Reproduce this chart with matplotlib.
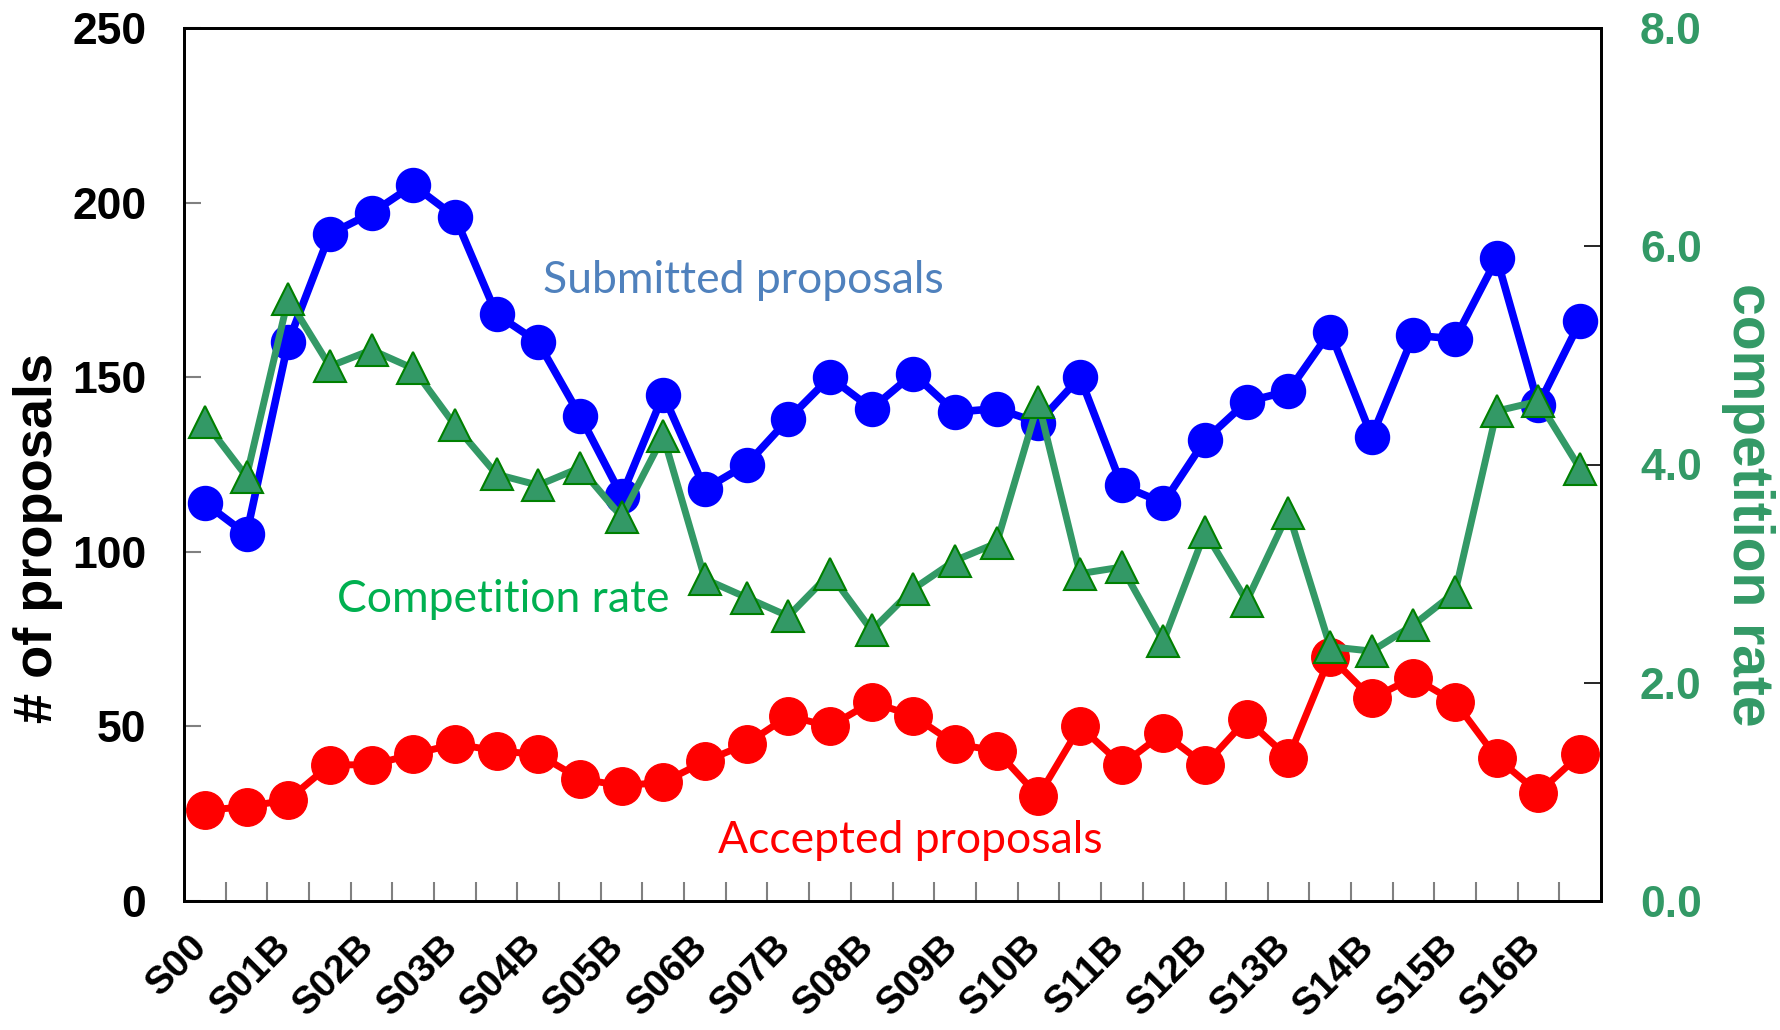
import numpy as np
import matplotlib
matplotlib.use("Agg")
import matplotlib.pyplot as plt
from matplotlib import font_manager, transforms

# ---------------- data ----------------
semesters = ["S00", "S01A", "S01B", "S02A", "S02B", "S03A", "S03B", "S04A", "S04B",
             "S05A", "S05B", "S06A", "S06B", "S07A", "S07B", "S08A", "S08B",
             "S09A", "S09B", "S10A", "S10B", "S11A", "S11B", "S12A", "S12B",
             "S13A", "S13B", "S14A", "S14B", "S15A", "S15B", "S16A", "S16B", "S17A"]
tick_labels = ["S00", "S01B", "S02B", "S03B", "S04B", "S05B", "S06B", "S07B", "S08B",
               "S09B", "S10B", "S11B", "S12B", "S13B", "S14B", "S15B", "S16B"]
submitted = [114, 105, 160, 191, 197, 205, 196, 168, 160, 139, 116, 145, 118, 125, 138,
             150, 141, 151, 140, 141, 137, 150, 119, 114, 132, 143, 146, 163, 133, 162,
             161, 184, 142, 166]
accepted = [26, 27, 29, 39, 39, 42, 45, 43, 42, 35, 33, 34, 40, 45, 53, 50, 57, 53, 45,
            43, 30, 50, 39, 48, 39, 52, 41, 70, 58, 64, 57, 41, 31, 42]
competition = [4.39, 3.89, 5.52, 4.90, 5.05, 4.88, 4.36, 3.91, 3.81, 3.97, 3.52, 4.26,
               2.95, 2.78, 2.61, 3.00, 2.48, 2.86, 3.12, 3.28, 4.57, 3.00, 3.06, 2.38,
               3.38, 2.75, 3.56, 2.33, 2.29, 2.53, 2.83, 4.49, 4.58, 3.96]
left_ticks = [0, 50, 100, 150, 200, 250]
right_ticks = [0.0, 2.0, 4.0, 6.0, 8.0]

# ---------------- fonts ----------------
names = {f.name for f in font_manager.fontManager.ttflist}
if "Liberation Sans Narrow" in names:
    tick_font = "Liberation Sans Narrow"
    ytick_size, xtick_size = 36, 32
else:
    tick_font = "Liberation Sans"
    ytick_size, xtick_size = 32, 28
label_font = "Liberation Sans"
note_font = "Lato" if "Lato" in names else "DejaVu Sans"

GREEN = "#339966"

W, H = 1781, 1030
fig = plt.figure(figsize=(W / 100, H / 100), dpi=100)
L, R, T, B = 184, 1601, 28, 901
ax = fig.add_axes([L / W, 1 - B / H, (R - L) / W, (B - T) / H])

x = np.arange(len(semesters))
ax.plot(x, accepted, color="#FF0000", lw=5, marker="o", ms=27, zorder=2)
ax.plot(x, submitted, color="#0000FF", lw=5.5, marker="o", ms=24.5, zorder=3)

ax2 = ax.twinx()
ax2.plot(x, competition, color=GREEN, lw=5, marker="^", ms=23,
         mfc=GREEN, mec="#008000", mew=1.5)

ax.set_xlim(-0.5, len(semesters) - 0.5)
ax.set_ylim(0, 250)
ax2.set_ylim(0, 8)

# left y axis
ax.set_yticks(left_ticks, labels=[str(v) for v in left_ticks],
              fontsize=ytick_size, fontweight="bold", family=tick_font)
ax.tick_params(axis="y", direction="in", length=12, width=1.5, color="#808080", pad=27)

# right y axis
ax2.set_yticks(right_ticks, labels=[f"{v:.1f}" for v in right_ticks],
               fontsize=ytick_size, fontweight="bold", family=tick_font, color=GREEN)
ax2.tick_params(axis="y", direction="in", length=12, width=1.2, color="black", pad=28)

# x axis: boundary ticks (major) + labels at every other category (minor)
ax.set_xticks(np.arange(0.5, len(semesters) - 1, 1.0))
ax.set_xticklabels([])
ax.tick_params(axis="x", which="major", direction="in", length=14, width=1.5, color="#808080")
ax.set_xticks(x[::2], minor=True)
ax.set_xticklabels(tick_labels, minor=True, rotation=45, ha="right",
                   fontsize=xtick_size, fontweight="bold", family=tick_font)
ax.tick_params(axis="x", which="minor", length=0, pad=20)
offset = transforms.ScaledTranslation(10 / 100, 0, fig.dpi_scale_trans)
for lbl in ax.get_xticklabels(minor=True):
    lbl.set_transform(lbl.get_transform() + offset)

for a in (ax, ax2):
    for s in a.spines.values():
        s.set_linewidth(2)
        s.set_color("black")

# axis titles
fig.text(38 / W, 1 - 538 / H, "# of proposals", rotation=90, ha="center", va="center",
         fontsize=39, fontweight="bold", family=label_font)
fig.text(1748 / W, 1 - 505 / H, "competition rate", rotation=270, ha="center", va="center",
         fontsize=41, fontweight="bold", family=label_font, color=GREEN)

# series annotations
ax.text((543 - L) / (R - L), (B - 293) / (B - T), "Submitted proposals", transform=ax.transAxes,
        ha="left", va="baseline", fontsize=32, color="#4F81BD", family=note_font)
ax.text((337 - L) / (R - L), (B - 612) / (B - T), "Competition rate", transform=ax.transAxes,
        ha="left", va="baseline", fontsize=32, color="#00B050", family=note_font)
ax.text((718 - L) / (R - L), (B - 853) / (B - T), "Accepted proposals", transform=ax.transAxes,
        ha="left", va="baseline", fontsize=32, color="#FF0000", family=note_font)

fig.savefig("out.png", dpi=100)
